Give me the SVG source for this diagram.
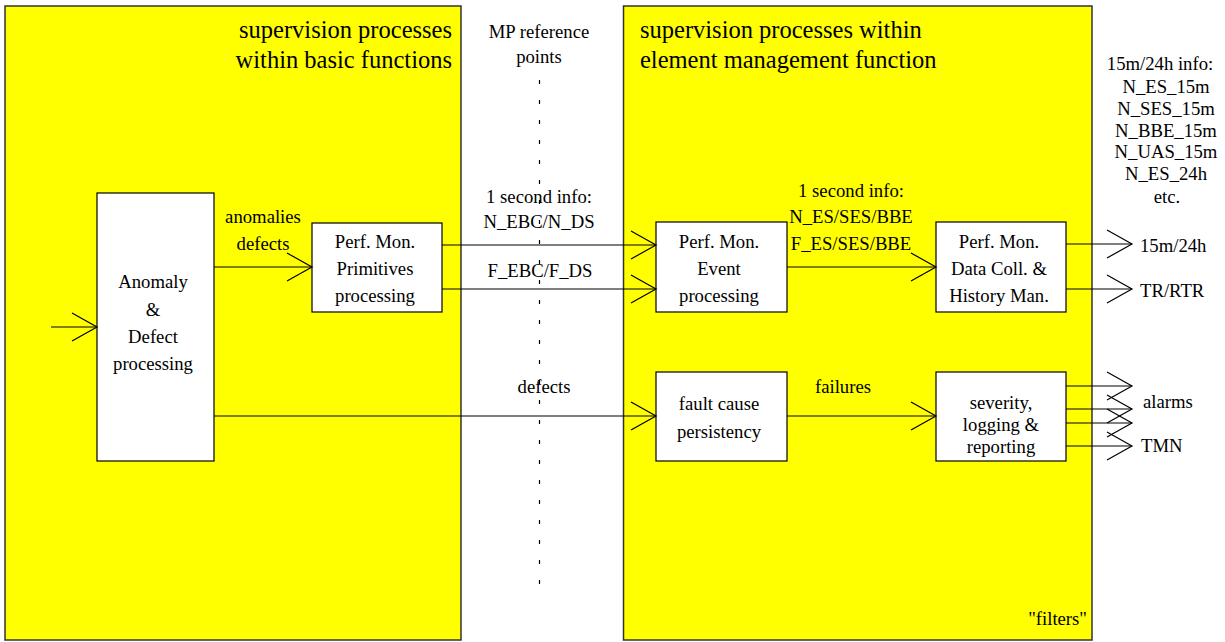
<svg xmlns="http://www.w3.org/2000/svg" width="1225" height="642" viewBox="0 0 1225 642" font-family="'Liberation Serif', 'Times New Roman', Tinos, 'DejaVu Serif', serif">
<style>
text{font-family:'Liberation Serif','Times New Roman',Tinos,serif;font-size:18.7px;fill:#000}
.t{font-size:24.5px}
.m{text-anchor:middle}
.e{text-anchor:end}
.panel{fill:#ffff00;stroke:#333;stroke-width:1.5}
.box{fill:#fff;stroke:#000;stroke-width:1.2}
.c{stroke:#000;stroke-width:1.2;fill:none;marker-end:url(#v)}
</style>
<defs>
<marker id="v" markerUnits="userSpaceOnUse" markerWidth="30" markerHeight="32" refX="25" refY="14" orient="auto" viewBox="-2 -2 30 32">
<path d="M0,0 L25,14 L0,28" fill="none" stroke="#000" stroke-width="1.2"/>
</marker>
</defs>
<rect width="1225" height="642" fill="#fff"/>
<g id="panel-basic">
<rect class="panel" x="5" y="6" width="456" height="634"/>
<text class="t e" x="452" y="38">supervision processes</text>
<text class="t e" x="452" y="68">within basic functions</text>
</g>
<g id="panel-em">
<rect class="panel" x="623.5" y="6" width="468.5" height="634"/>
<text class="t" x="640" y="38">supervision processes within</text>
<text class="t" x="640" y="68">element management function</text>
<text class="e" x="1087" y="625">"filters"</text>
</g>
<g id="mp-ref">
<text class="m" x="539" y="38">MP reference</text>
<text class="m" x="539" y="63">points</text>
</g>
<g id="anomaly">
<rect class="box" x="97" y="193" width="117" height="268"/>
<text class="m" x="153" y="288">Anomaly</text>
<text class="m" x="153" y="316">&amp;</text>
<text class="m" x="153" y="343">Defect</text>
<text class="m" x="153" y="370">processing</text>
</g>
<g id="primitives">
<rect class="box" x="312" y="223" width="130" height="89"/>
<text class="m" x="375" y="248">Perf. Mon.</text>
<text class="m" x="375" y="275">Primitives</text>
<text class="m" x="375" y="302">processing</text>
</g>
<g id="event">
<rect class="box" x="656" y="222" width="131" height="90"/>
<text class="m" x="719" y="248">Perf. Mon.</text>
<text class="m" x="719" y="275">Event</text>
<text class="m" x="719" y="302">processing</text>
</g>
<g id="datacoll">
<rect class="box" x="936" y="222" width="130" height="90"/>
<text class="m" x="999" y="248">Perf. Mon.</text>
<text class="m" x="999" y="275">Data Coll. &amp;</text>
<text class="m" x="999" y="302">History Man.</text>
</g>
<g id="fault">
<rect class="box" x="656" y="372" width="131" height="89"/>
<text class="m" x="719" y="410">fault cause</text>
<text class="m" x="719" y="438">persistency</text>
</g>
<g id="severity">
<rect class="box" x="936" y="372" width="130" height="89"/>
<text class="m" x="1001" y="409">severity,</text>
<text class="m" x="1001" y="431">logging &amp;</text>
<text class="m" x="1001" y="453">reporting</text>
</g>
<g id="outputs">
<text class="m" x="1160" y="70">15m/24h info:</text>
<text class="m" x="1166" y="93">N_ES_15m</text>
<text class="m" x="1166" y="115">N_SES_15m</text>
<text class="m" x="1166" y="137">N_BBE_15m</text>
<text class="m" x="1166" y="158">N_UAS_15m</text>
<text class="m" x="1166" y="180">N_ES_24h</text>
<text class="m" x="1167" y="203">etc.</text>
<text x="1140" y="252">15m/24h</text>
<text x="1140" y="297">TR/RTR</text>
<text x="1143" y="408">alarms</text>
<text x="1141" y="452">TMN</text>
</g>
<g id="labels">
<text class="m" x="263" y="223">anomalies</text>
<text class="m" x="263" y="250">defects</text>
<text class="m" x="539" y="203">1 second info:</text>
<text class="m" x="539" y="228">N_EBC/N_DS</text>
<text class="m" x="540" y="277">F_EBC/F_DS</text>
<text class="m" x="544" y="393">defects</text>
<text class="m" x="851" y="197">1 second info:</text>
<text class="m" x="851" y="223">N_ES/SES/BBE</text>
<text class="m" x="851" y="250">F_ES/SES/BBE</text>
<text class="m" x="843" y="393">failures</text>
</g>
<g id="connectors">
<line x1="539.5" y1="80" x2="539.5" y2="596" stroke="#000" stroke-width="1.2" stroke-dasharray="4 16"/>
<line class="c" x1="51" y1="327" x2="97" y2="327"/>
<line class="c" x1="214" y1="267" x2="312" y2="267"/>
<line class="c" x1="442" y1="245" x2="656" y2="245"/>
<line class="c" x1="442" y1="289" x2="656" y2="289"/>
<line class="c" x1="787" y1="267" x2="936" y2="267"/>
<line class="c" x1="214" y1="416" x2="656" y2="416"/>
<line class="c" x1="787" y1="416" x2="936" y2="416"/>
<line class="c" x1="1066" y1="244" x2="1132" y2="244"/>
<line class="c" x1="1066" y1="289" x2="1132" y2="289"/>
<line class="c" x1="1066" y1="386" x2="1132" y2="386"/>
<line class="c" x1="1066" y1="409" x2="1132" y2="409"/>
<line class="c" x1="1066" y1="423" x2="1132" y2="423"/>
<line class="c" x1="1066" y1="446" x2="1132" y2="446"/>
</g>
</svg>
